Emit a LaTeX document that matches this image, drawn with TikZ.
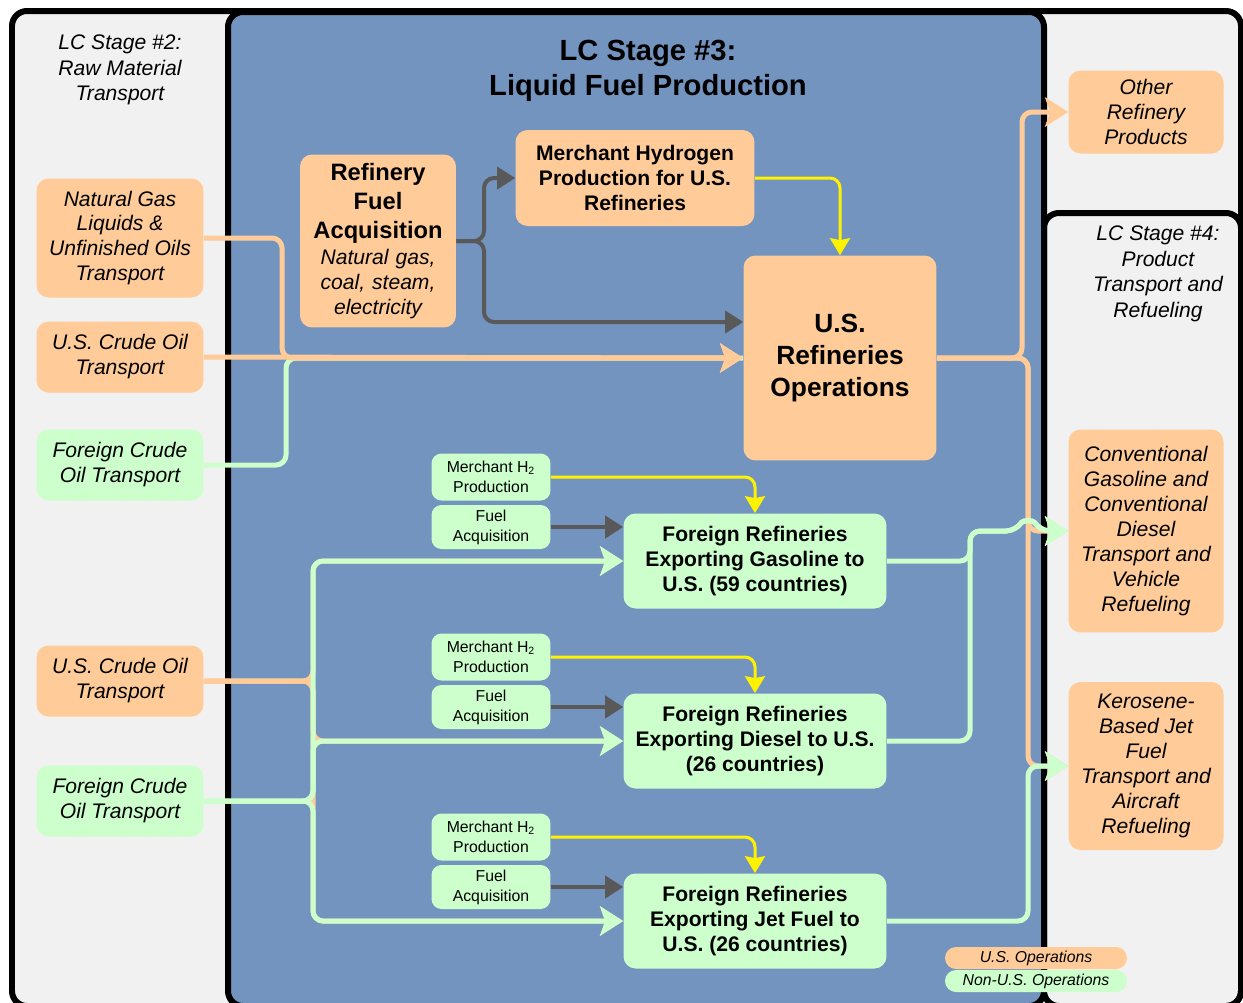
\documentclass[tikz,border=0pt]{standalone}
\usepackage{fontspec}
\setmainfont{Liberation Sans}
\usetikzlibrary{arrows.meta}
\definecolor{usorange}{RGB}{255,204,153}
\definecolor{nonusgreen}{RGB}{204,255,204}
\definecolor{stageblue}{RGB}{115,148,191}
\definecolor{panelgrey}{RGB}{241,241,241}
\definecolor{fuelgrey}{RGB}{89,89,89}

\begin{document}
\begin{tikzpicture}[x=0.02cm,y=-0.02cm]
		\tikzstyle{usbox} = [fill=usorange, rounded corners=0.24cm, align=center, inner sep=1pt, font=\fontsize{12}{14.2}\selectfont\itshape]
		\tikzstyle{nonusbox} = [usbox, fill=nonusgreen]
		\tikzstyle{bigbox} = [fill=usorange, rounded corners=0.24cm, align=center, inner sep=1pt, font=\fontsize{12}{14.2}\selectfont\bfseries]
		\tikzstyle{frbox} = [bigbox, fill=nonusgreen, minimum width=5.26cm, minimum height=1.9cm]
		\tikzstyle{smallbox} = [fill=nonusgreen, rounded corners=0.2cm, align=center, inner sep=1pt, minimum width=2.38cm, font=\fontsize{9}{11.3}\selectfont]
		\tikzstyle{legbox} = [rounded corners=0.22cm, minimum width=3.64cm, minimum height=0.44cm, inner sep=0pt, font=\fontsize{9}{10.8}\selectfont\itshape]
		\tikzstyle{stagelabel} = [align=center, font=\fontsize{12}{14.5}\selectfont\itshape]
		\tikzstyle{usflow} = [usorange, line width=0.1cm, rounded corners=0.2cm, -{Stealth[length=0.46cm,width=0.58cm,inset=0.1cm]}]
		\tikzstyle{nonusflow} = [usflow, nonusgreen]
		\tikzstyle{fuelflow} = [fuelgrey, line width=0.08cm, rounded corners=0.2cm, -{Triangle[length=0.36cm,width=0.44cm]}]
		\tikzstyle{htwoflow} = [yellow, line width=0.06cm, rounded corners=0.2cm, -{Stealth[length=0.34cm,width=0.4cm,inset=0.04cm]}]

		\useasboundingbox (0,0) rectangle (1243,1002);
		\begin{scope}
		\clip (0,0) rectangle (1243,1002);
		\draw[line width=0.12cm, fill=panelgrey, rounded corners=0.3cm] (12,11) rectangle (1241,1006);
		\draw[line width=0.12cm, rounded corners=0.3cm] (1044,213) rectangle (1241,1006);
		\draw[line width=0.12cm, fill=stageblue, rounded corners=0.3cm] (228,12) rectangle (1044,1006);
		\end{scope}

		% stage headings
		\node [stagelabel] (stagetwo) at (120,70) {LC Stage \#2:\\Raw Material\\Transport};
		\node [align=center, font=\fontsize{16.6}{20.2}\selectfont\bfseries] (stagethree) at (648,71) {LC Stage \#3:\\Liquid Fuel Production};
		\node [stagelabel] (stagefour) at (1158,274) {LC Stage \#4:\\Product\\Transport and\\Refueling};

		% raw material transport
		\node [usbox, minimum width=3.34cm, minimum height=2.38cm] (ngl) at (120,238) {Natural Gas\\Liquids \&\\Unfinished Oils\\Transport};
		\node [usbox, minimum width=3.34cm, minimum height=1.42cm] (usc1) at (120,357) {U.S. Crude Oil\\Transport};
		\node [nonusbox, minimum width=3.34cm, minimum height=1.42cm] (fco1) at (120,465) {Foreign Crude\\Oil Transport};
		\node [usbox, minimum width=3.34cm, minimum height=1.42cm] (usc2) at (120,681) {U.S. Crude Oil\\Transport};
		\node [nonusbox, minimum width=3.34cm, minimum height=1.42cm] (fco2) at (120,801) {Foreign Crude\\Oil Transport};

		% u.s. production
		\node [bigbox, minimum width=3.12cm, minimum height=3.46cm, text width=3cm] (rfa) at (378,241)
			{{\fontsize{13.5}{16.5}\selectfont Refinery\\Fuel\\Acquisition\par}\vspace{1pt}{\fontsize{12}{14.2}\selectfont\mdseries\itshape Natural gas,\\coal, steam,\\electricity\par}};
		\node [bigbox, minimum width=4.78cm, minimum height=1.92cm] (mh) at (635,178) {Merchant Hydrogen\\Production for U.S.\\Refineries};
		\node [bigbox, minimum width=3.86cm, minimum height=4.1cm, font=\fontsize{15}{18.2}\selectfont\bfseries] (refops) at (840,358) {U.S.\\Refineries\\Operations};

		% foreign production
		\node [smallbox, minimum height=0.94cm] (mh1) at (491,477) {Merchant H\textsubscript{2}\\Production};
		\node [smallbox, minimum height=0.88cm] (fa1) at (491,527) {Fuel\\Acquisition};
		\node [frbox] (fg) at (755,561) {Foreign Refineries\\Exporting Gasoline to\\U.S. (59 countries)};
		\node [smallbox, minimum height=0.94cm] (mh2) at (491,657) {Merchant H\textsubscript{2}\\Production};
		\node [smallbox, minimum height=0.88cm] (fa2) at (491,707) {Fuel\\Acquisition};
		\node [frbox] (fd) at (755,741) {Foreign Refineries\\Exporting Diesel to U.S.\\(26 countries)};
		\node [smallbox, minimum height=0.94cm] (mh3) at (491,837) {Merchant H\textsubscript{2}\\Production};
		\node [smallbox, minimum height=0.88cm] (fa3) at (491,887) {Fuel\\Acquisition};
		\node [frbox] (fj) at (755,921) {Foreign Refineries\\Exporting Jet Fuel to\\U.S. (26 countries)};

		% products
		\node [usbox, minimum width=3.1cm, minimum height=1.66cm] (other) at (1146,112) {Other\\Refinery\\Products};
		\node [usbox, minimum width=3.1cm, minimum height=4.06cm] (conv) at (1146,531) {Conventional\\Gasoline and\\Conventional\\Diesel\\Transport and\\Vehicle\\Refueling};
		\node [usbox, minimum width=3.1cm, minimum height=3.36cm] (kero) at (1146,766) {Kerosene-\\Based Jet\\Fuel\\Transport and\\Aircraft\\Refueling};

		\coordinate (colA) at (282,0);
		\coordinate (colB) at (286,0);
		\coordinate (colC) at (484,0);
		\coordinate (colD) at (313,0);
		\coordinate (colE) at (970,0);
		\coordinate (colF) at (1022,0);
		\coordinate (colG) at (1028,0);
		\coordinate (refin) at ([yshift=0.72cm]refops.west);
		\coordinate (hop) at (colG |- conv.west);

		\draw[nonusflow, -] (fco1.east) -- (fco1.east -| colB) -- (colB |- refops.west) -- (refops.west);
		\draw[usflow] (ngl.east) -- (ngl.east -| colA) -- (colA |- refops.west) -- (refops.west);
		\draw[usflow] (usc1.east) -- (refops.west);

		\draw[fuelflow] (rfa.east) -- (rfa.east -| colC) -- (colC |- mh.west) -- (mh.west);
		\draw[fuelflow] (rfa.east) -- (rfa.east -| colC) -- (colC |- refin) -- (refin);
		\draw[htwoflow] (mh.east) -| (refops.north);

		\draw[usflow] (usc2.east) -- (usc2.east -| colD) -- (colD |- fg.west) -- (fg.west);
		\draw[usflow] (usc2.east) -- (usc2.east -| colD) -- (colD |- fd.west) -- (fd.west);
		\draw[usflow] (usc2.east) -- (usc2.east -| colD) -- (colD |- fj.west) -- (fj.west);
		\draw[nonusflow] (fco2.east) -- (fco2.east -| colD) -- (colD |- fg.west) -- (fg.west);
		\draw[nonusflow] (fco2.east) -- (fco2.east -| colD) -- (colD |- fd.west) -- (fd.west);
		\draw[nonusflow] (fco2.east) -- (fco2.east -| colD) -- (colD |- fj.west) -- (fj.west);

		\draw[htwoflow] (mh1.east) -| (fg.north);
		\draw[htwoflow] (mh2.east) -| (fd.north);
		\draw[htwoflow] (mh3.east) -| (fj.north);
		\draw[fuelflow] (fa1.east) -- (fa1.east -| fg.west);
		\draw[fuelflow] (fa2.east) -- (fa2.east -| fd.west);
		\draw[fuelflow] (fa3.east) -- (fa3.east -| fj.west);

		\draw[usflow] (refops.east) -- (refops.east -| colF) -- (colF |- other.west) -- (other.west);
		\draw[usflow] (refops.east) -- (refops.east -| colG) -- (colG |- conv.west) -- (conv.west);
		\draw[usflow] (refops.east) -- (refops.east -| colG) -- (colG |- kero.west) -- (kero.west);
		\draw[nonusflow] (fg.east) -- (fg.east -| colE) -- (colE |- conv.west) -- ([xshift=-0.24cm]hop)
			.. controls ([xshift=-0.1cm,yshift=0.22cm]hop) and ([xshift=0.1cm,yshift=0.22cm]hop) .. ([xshift=0.24cm]hop) -- (conv.west);
		\draw[nonusflow] (fd.east) -- (fd.east -| colE) -- (colE |- conv.west) -- ([xshift=-0.24cm]hop)
			.. controls ([xshift=-0.1cm,yshift=0.22cm]hop) and ([xshift=0.1cm,yshift=0.22cm]hop) .. ([xshift=0.24cm]hop) -- (conv.west);
		\draw[nonusflow] (fj.east) -- (fj.east -| colG) -- (colG |- kero.west) -- (kero.west);

		% legend
		\node [legbox, fill=usorange] (legus) at (1036,958) {U.S. Operations};
		\node [legbox, fill=nonusgreen] (legnonus) at (1036,981) {Non-U.S. Operations};
	\end{tikzpicture}
\end{document}
